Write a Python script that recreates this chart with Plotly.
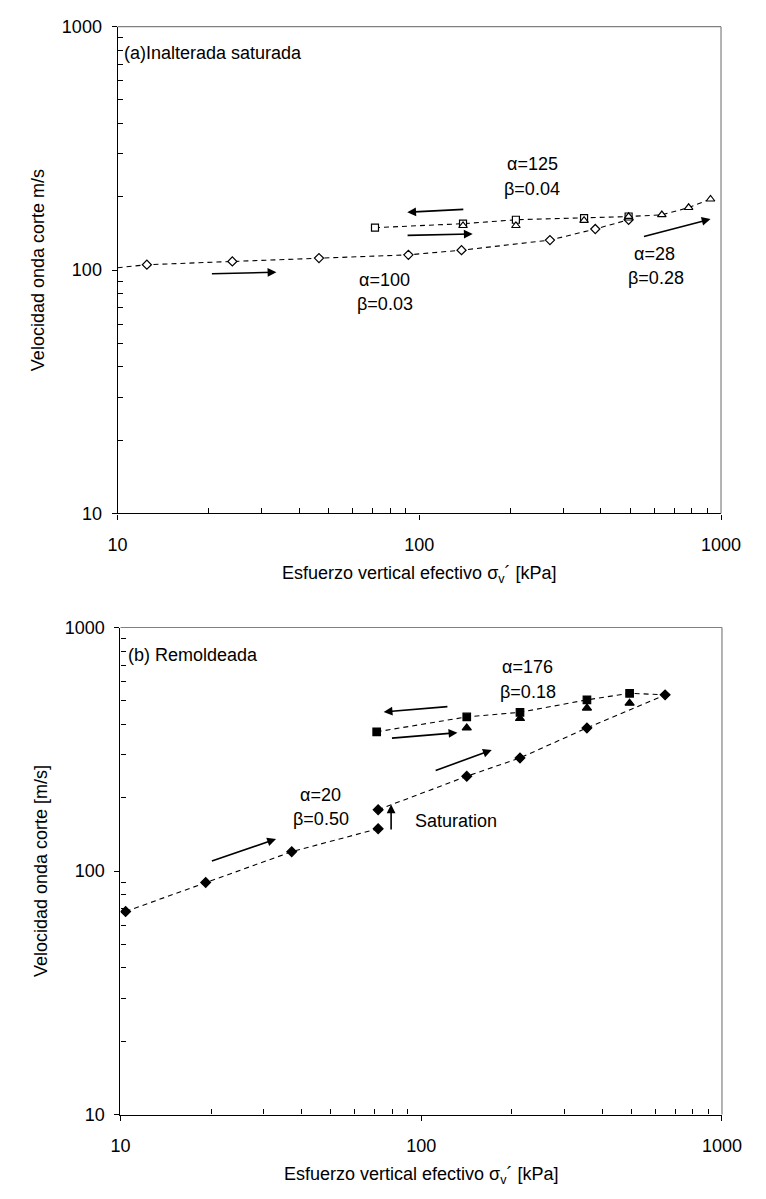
import math
import plotly.graph_objects as go

# ---------------- Panel (a) Inalterada saturada ----------------
a_load_s = [12.5, 24, 46.5, 92, 138, 271, 383, 494]
a_load_v = [105.2, 108.5, 112, 115.5, 120.7, 132.8, 147.5, 161]
a_axis_start_s = [10]
a_axis_start_v = [102.3]
a_unload_s = [71.3, 139.6, 209, 351.6, 494]
a_unload_v = [149.4, 155.1, 161, 163.4, 166]
a_reload_s = [139.6, 209, 351.6, 494, 636.5, 781, 923]
a_reload_v = [152.3, 152.3, 160, 166, 168.7, 180.6, 195.7]
# arrows: (s_tail, v_tail, s_head, v_head)
a_arrows = [(141.5, 177.7, 91.2, 172.8),
            (90.4, 138.8, 150.3, 140.8),
            (20.3, 96.5, 33.6, 98.0),
            (549, 137, 923, 162)]

# ---------------- Panel (b) Remoldeada ----------------
b_dry_s = [10.4, 19.2, 37.1, 71.9]
b_dry_v = [68.2, 89.8, 120.1, 149.2]
b_sat_s = [71.9, 141.7, 213, 355.6, 647]
b_sat_v = [178.6, 245, 291.4, 387, 529]
b_unload_s = [71.1, 141.7, 213, 355.6, 493]
b_unload_v = [373, 429.5, 448.6, 504.7, 537]
b_reload_s = [141.7, 213, 355.6, 493]
b_reload_v = [387, 423, 467, 489]
b_arrows = [(123.6, 474, 75, 450),
            (79, 351, 131.9, 370),
            (110.4, 257.5, 171.6, 314),
            (19.9, 109.4, 32.9, 135.3),
            (79.4, 146, 79.4, 187.7)]

FONT = "Liberation Sans, Arial, sans-serif"
DASH = "5px,4px"
L = math.log10

fig = go.Figure()

def line(x, y, xa, ya):
    fig.add_trace(go.Scatter(x=x, y=y, mode="lines", xaxis=xa, yaxis=ya,
                             line=dict(color="black", width=1.1, dash=DASH),
                             showlegend=False, hoverinfo="skip"))

def pts(x, y, sym, size, xa, ya, filled):
    fig.add_trace(go.Scatter(x=x, y=y, mode="markers", xaxis=xa, yaxis=ya,
                             marker=dict(symbol=sym, size=size,
                                         color="black" if filled else "white",
                                         line=dict(color="black", width=1.2)),
                             showlegend=False))

# panel a
line(a_axis_start_s + a_load_s, a_axis_start_v + a_load_v, "x", "y")
line(a_unload_s + a_reload_s[4:], a_unload_v + a_reload_v[4:], "x", "y")
pts(a_load_s, a_load_v, "diamond", 7, "x", "y", False)
pts(a_unload_s, a_unload_v, "square", 7, "x", "y", False)
pts(a_reload_s, a_reload_v, "triangle-up", 7.5, "x", "y", False)

# panel b
line(b_dry_s, b_dry_v, "x2", "y2")
line(b_sat_s, b_sat_v, "x2", "y2")
line(b_unload_s + b_sat_s[-1:], b_unload_v + b_sat_v[-1:], "x2", "y2")
pts(b_dry_s + b_sat_s, b_dry_v + b_sat_v, "diamond", 7.5, "x2", "y2", True)
pts(b_unload_s, b_unload_v, "square", 7.5, "x2", "y2", True)
pts(b_reload_s, b_reload_v, "triangle-up", 8, "x2", "y2", True)

annotations = []
def arrow(a, xr, yr):
    st, vt, sh, vh = a
    annotations.append(dict(x=L(sh), y=L(vh), ax=L(st), ay=L(vt), xref=xr, yref=yr,
                            axref=xr, ayref=yr, text="", showarrow=True,
                            arrowhead=2, arrowsize=1.1, arrowwidth=1.6, arrowcolor="black"))
for a in a_arrows:
    arrow(a, "x", "y")
for a in b_arrows:
    arrow(a, "x2", "y2")

def txt(t, x, y, xr, yr, anchor="center"):
    annotations.append(dict(text=t, x=x, y=y, xref=xr, yref=yr, showarrow=False,
                            xanchor=anchor, yanchor="middle",
                            font=dict(family=FONT, size=18, color="black")))

txt("(a)Inalterada saturada", 1.016, 2.89, "x", "y", "left")
txt("α=125", 2.375, 2.436, "x", "y")
txt("β=0.04", 2.375, 2.335, "x", "y")
txt("α=100", 1.885, 1.958, "x", "y")
txt("β=0.03", 1.885, 1.859, "x", "y")
txt("α=28", 2.78, 2.066, "x", "y")
txt("β=0.28", 2.786, 1.967, "x", "y")

txt("(b) Remoldeada", 1.019, 2.887, "x2", "y2", "left")
txt("α=176", 2.355, 2.838, "x2", "y2")
txt("β=0.18", 2.355, 2.737, "x2", "y2")
txt("α=20", 1.666, 2.313, "x2", "y2")
txt("β=0.50", 1.666, 2.212, "x2", "y2")
txt("Saturation", 1.974, 2.205, "x2", "y2", "left")

minor_vals = [20, 30, 40, 50, 60, 70, 80, 90, 200, 300, 400, 500, 600, 700, 800, 900]

def xax(domain, title):
    return dict(type="log", range=[1, 3], domain=domain,
                tickvals=[10, 100, 1000], ticktext=["10", "100", "1000"],
                ticks="outside", ticklen=5, tickcolor="black", tickwidth=1,
                minor=dict(tickvals=minor_vals, ticks="inside", ticklen=5,
                           tickcolor="black", tickwidth=1, showgrid=False),
                showline=True, linecolor="black", linewidth=1.2, mirror=False,
                showgrid=False, zeroline=False, ticklabelstandoff=10,
                tickfont=dict(family=FONT, size=18, color="black"),
                title=dict(text=title, standoff=12,
                           font=dict(family=FONT, size=18, color="black")))

def yax(domain, title, anchor):
    return dict(type="log", range=[1, 3], domain=domain, anchor=anchor,
                tickvals=[10, 100, 1000], ticktext=["10", "100", "1000"],
                ticks="outside", ticklen=5, tickcolor="black", tickwidth=1,
                minor=dict(tickvals=minor_vals, ticks="inside", ticklen=5,
                           tickcolor="black", tickwidth=1, showgrid=False),
                showline=True, linecolor="black", linewidth=1.2, mirror=False,
                showgrid=False, zeroline=False, ticklabelstandoff=6,
                tickfont=dict(family=FONT, size=18, color="black"),
                title=dict(text=title, standoff=12,
                           font=dict(family=FONT, size=18, color="black")))

xtitle = "Esfuerzo vertical efectivo σ<sub>v</sub>´ [kPa]"

shapes = []
for xr, yr in (("x domain", "y domain"), ("x2 domain", "y2 domain")):
    shapes.append(dict(type="line", xref=xr, yref=yr, x0=0, x1=1, y0=1, y1=1,
                       line=dict(color="#808080", width=1.2)))
    shapes.append(dict(type="line", xref=xr, yref=yr, x0=1, x1=1, y0=0, y1=1,
                       line=dict(color="#808080", width=1.2)))

W, H = 766, 1199
fig.update_layout(
    width=W, height=H, autosize=False,
    margin=dict(l=0, r=0, t=0, b=0),
    paper_bgcolor="white", plot_bgcolor="white",
    xaxis=dict(**xax([112 / W, 740 / W], xtitle), anchor="y"),
    yaxis=yax([1 - 512 / H, 1 - 17 / H], "Velocidad onda corte m/s", "x"),
    xaxis2=dict(**xax([115 / W, 741 / W], xtitle), anchor="y2"),
    yaxis2=yax([1 - 1123.3 / H, 1 - 628 / H], "Velocidad onda corte [m/s]", "x2"),
    annotations=annotations, shapes=shapes,
    font=dict(family=FONT, size=18, color="black"),
)

fig.write_html("out.html")
